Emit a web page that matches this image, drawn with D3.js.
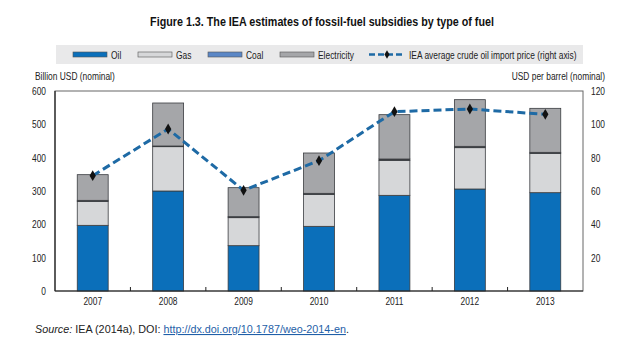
<!DOCTYPE html>
<html><head><meta charset="utf-8">
<script src="https://cdn.jsdelivr.net/npm/d3@7"></script>
<style>
body{margin:0;background:#fff;}
svg{font-family:"Liberation Sans",Arial,sans-serif;}
</style></head><body>
<svg id="c" width="644" height="356"></svg>
<script>
const years = ["2007","2008","2009","2010","2011","2012","2013"];
const oil = [197, 300, 136, 194, 287, 306, 295];
const gas = [72, 133, 84, 96, 105, 124, 118];
const coal = [3, 2, 3, 3, 4, 4, 3];
const electricity = [77, 129, 87, 121, 133, 140, 132];
const oilPrice = [69.2, 97.2, 60.4, 78.2, 107.6, 109.2, 106];
const leftTicks = [0, 100, 200, 300, 400, 500, 600];
const rightTicks = [20, 40, 60, 80, 100, 120];

const seriesNames = ["Oil", "Gas", "Coal", "Electricity"];
const seriesData = [oil, gas, coal, electricity];
const colors = ["#0b6fba", "#d6d7d9", "#5b87c6", "#a5a6a9"];

const svg = d3.select("#c");
const m = {l: 55, r: 583, t: 91, b: 291};
const SX = 0.8;

function ntext(xp, yp, str, opts = {}) {
  const t = svg.append("text")
    .attr("transform", `translate(${xp},${yp}) scale(${opts.sx || SX},1)`)
    .attr("text-anchor", opts.anchor || "start")
    .attr("font-size", opts.size || 10.5)
    .attr("fill", opts.fill || "#222")
    .text(str);
  if (opts.bold) t.attr("font-weight", "bold");
  return t;
}

const x = d3.scaleBand().domain(years).range([m.l, m.r]).paddingInner(0.59).paddingOuter(0.295);
const xb = d3.scaleBand().domain(years).range([m.l, m.r]);
const yL = d3.scaleLinear().domain([0, 600]).range([m.b, m.t]);
const yR = d3.scaleLinear().domain([0, 120]).range([m.b, m.t]);

// title
ntext(322, 26, "Figure 1.3. The IEA estimates of fossil-fuel subsidies by type of fuel",
  {anchor: "middle", bold: true, size: 12.5, sx: 0.86, fill: "#111"});

// legend
svg.append("rect").attr("x", 56).attr("y", 45).attr("width", 527).attr("height", 19).attr("fill", "#e9e9ea");
const legX = [73, 138, 208, 280];
seriesNames.forEach((n, i) => {
  svg.append("rect").attr("x", legX[i]).attr("y", 52).attr("width", 34).attr("height", 5)
    .attr("fill", colors[i]).attr("stroke", "#555").attr("stroke-width", 0.6);
  ntext(legX[i] + 38, 58.5, n);
});
svg.append("line").attr("x1", 369).attr("x2", 405).attr("y1", 54.5).attr("y2", 54.5)
  .attr("stroke", "#1e6aa5").attr("stroke-width", 2.5).attr("stroke-dasharray", "6,3");
svg.append("path").attr("d", d3.symbol(d3.symbolDiamond, 22)()).attr("transform", "translate(387,54.5)").attr("fill", "#111");
ntext(409, 58.5, "IEA average crude oil import price (right axis)");

// axis titles
ntext(35, 80, "Billion USD (nominal)");
ntext(605, 80, "USD per barrel (nominal)", {anchor: "end"});

// frame
svg.append("rect").attr("x", m.l).attr("y", m.t).attr("width", m.r - m.l).attr("height", m.b - m.t)
  .attr("fill", "none").attr("stroke", "#666").attr("stroke-width", 1);

// stacked bars
const stackRows = years.map((yv, i) => {
  const o = {year: yv};
  seriesNames.forEach((n, j) => o[n] = seriesData[j][i]);
  return o;
});
const stack = d3.stack().keys(seriesNames)(stackRows);
stack.forEach((layer, j) => {
  svg.append("g").selectAll("rect").data(layer).join("rect")
    .attr("x", d => x(d.data.year)).attr("width", x.bandwidth())
    .attr("y", d => yL(d[1])).attr("height", d => yL(d[0]) - yL(d[1]))
    .attr("fill", j === 2 ? "#3a3c40" : colors[j])
    .attr("stroke", "#3a3c40").attr("stroke-width", 0.8);
});

// axes
const axL = svg.append("g").attr("transform", `translate(${m.l},0)`)
  .call(d3.axisLeft(yL).tickValues(leftTicks).tickSize(0).tickPadding(0));
const axR = svg.append("g").attr("transform", `translate(${m.r},0)`)
  .call(d3.axisRight(yR).tickValues(rightTicks).tickSize(0).tickPadding(0));
const axB = svg.append("g").attr("transform", `translate(0,${m.b})`)
  .call(d3.axisBottom(x).tickSize(0).tickPadding(7));
[axL, axR, axB].forEach(a => {
  a.select(".domain").remove();
  a.selectAll("text").attr("font-size", 10.5).attr("fill", "#222");
});
axL.selectAll("text").attr("x", null).attr("transform", `translate(-9,0) scale(${SX},1)`);
axR.selectAll("text").attr("x", null).attr("transform", `translate(8,0) scale(${SX},1)`);
axB.selectAll("text").attr("transform", `scale(${SX},1)`);

// bottom & left axis lines and inner ticks at band boundaries
svg.append("line").attr("x1", m.l).attr("x2", m.r).attr("y1", m.b).attr("y2", m.b).attr("stroke", "#222").attr("stroke-width", 1.2);
svg.append("line").attr("x1", m.l).attr("x2", m.l).attr("y1", m.t).attr("y2", m.b).attr("stroke", "#222").attr("stroke-width", 1.2);
svg.append("g").selectAll("line").data(years.slice(1)).join("line")
  .attr("x1", d => xb(d)).attr("x2", d => xb(d)).attr("y1", m.b).attr("y2", m.b - 4)
  .attr("stroke", "#222").attr("stroke-width", 1);

// line
const cx = d => x(d) + x.bandwidth() / 2;
const line = d3.line().x((d, i) => cx(years[i])).y(d => yR(d));
svg.append("path").datum(oilPrice).attr("d", line).attr("fill", "none")
  .attr("stroke", "#1e6aa5").attr("stroke-width", 3).attr("stroke-dasharray", "8,4");
svg.append("g").selectAll("path").data(oilPrice).join("path")
  .attr("d", d3.symbol(d3.symbolDiamond, 34)())
  .attr("transform", (d, i) => `translate(${cx(years[i])},${yR(d)})`).attr("fill", "#111");

// source
const src = svg.append("text").attr("x", 35).attr("y", 333).attr("font-size", 10.8).attr("fill", "#222");
src.append("tspan").attr("font-style", "italic").text("Source:");
src.append("tspan").text(" IEA (2014a), DOI: ");
src.append("tspan").attr("fill", "#1f5fa8").attr("text-decoration", "underline").text("http://dx.doi.org/10.1787/weo-2014-en");
src.append("tspan").text(".");
</script>
</body></html>
